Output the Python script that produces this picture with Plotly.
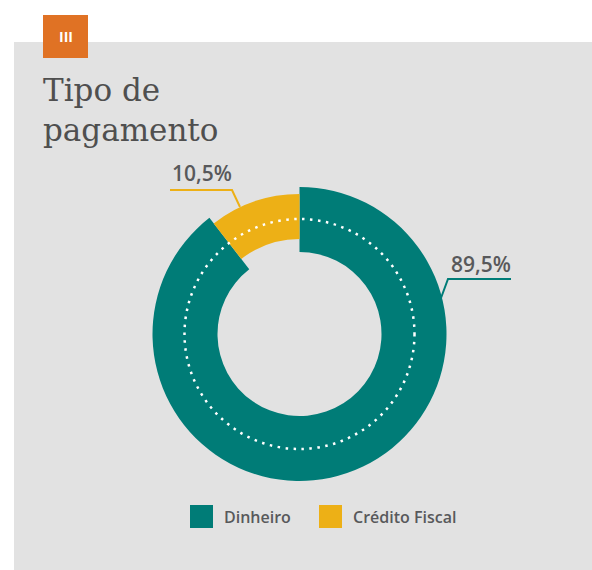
import plotly.graph_objects as go

# Dados
categorias = ["Dinheiro", "Crédito Fiscal"]
valores = [89.5, 10.5]
cores = ["#007C77", "#EDB016"]
titulo = "Tipo de<br>pagamento"
secao = "III"

W, H = 592, 570
COR_FUNDO = "#E2E2E2"
COR_TEXTO = "#58595B"


def px(x):
    return x / W


def py(y):
    return 1 - y / H


def dominio(cx, cy, r):
    return dict(x=[px(cx - r), px(cx + r)], y=[py(cy + r), py(cy - r)])


def rotulo(v):
    return f"{v:.1f}%".replace(".", ",")


cx, cy = 299.5, 334

fig = go.Figure()

# anel externo (Dinheiro)
fig.add_trace(go.Pie(
    labels=categorias, values=valores, sort=False, direction="clockwise",
    rotation=0, hole=82 / 147, domain=dominio(cx, cy, 147),
    marker=dict(colors=[cores[0], "rgba(0,0,0,0)"], line=dict(width=0)),
    textinfo="none", hoverinfo="label+percent", showlegend=False,
))
# anel mais fino (Crédito Fiscal)
fig.add_trace(go.Pie(
    labels=categorias, values=valores, sort=False, direction="clockwise",
    rotation=0, hole=95 / 140, domain=dominio(cx, cy, 140),
    marker=dict(colors=["rgba(0,0,0,0)", cores[1]], line=dict(width=0)),
    textinfo="none", hoverinfo="label+percent", showlegend=False,
))

shapes = [
    # painel cinza
    dict(type="rect", xref="paper", yref="paper", x0=px(14), x1=px(592),
         y0=py(570), y1=py(42), fillcolor=COR_FUNDO, line=dict(width=0), layer="below"),
    # selo laranja
    dict(type="rect", xref="paper", yref="paper", x0=px(43), x1=px(88),
         y0=py(58), y1=py(15), fillcolor="#E07224", line=dict(width=0), layer="below"),
    # círculo pontilhado
    dict(type="circle", xref="paper", yref="paper", x0=px(cx - 115), x1=px(cx + 115),
         y0=py(cy + 115), y1=py(cy - 115),
         line=dict(color="white", width=2.5, dash="2.5px,5.5px")),
    # linhas de chamada
    dict(type="path", xref="paper", yref="paper",
         path=f"M {px(170)},{py(190)} L {px(232)},{py(190)} L {px(240)},{py(207)}",
         line=dict(color=cores[1], width=2)),
    dict(type="path", xref="paper", yref="paper",
         path=f"M {px(511)},{py(279)} L {px(448)},{py(279)} L {px(441)},{py(298)}",
         line=dict(color=cores[0], width=2)),
]

annotations = [
    dict(text=secao, x=px(65.5), y=py(37), xanchor="center", yanchor="middle",
         font=dict(family="Open Sans", size=14, color="white", weight=700)),
    dict(text=titulo, x=px(41), y=py(70), xanchor="left", yanchor="top", align="left",
         font=dict(family="DejaVu Serif", size=31, color="#4F4F4F")),
    dict(text=rotulo(valores[1]), x=px(202), y=py(173), xanchor="center", yanchor="middle",
         font=dict(family="Open Sans", size=21, color=COR_TEXTO, weight=600)),
    dict(text=rotulo(valores[0]), x=px(481), y=py(264), xanchor="center", yanchor="middle",
         font=dict(family="Open Sans", size=21, color=COR_TEXTO, weight=600)),
]

# legenda manual
leg_x = [190, 319]
for i, nome in enumerate(categorias):
    x0 = leg_x[i]
    shapes.append(dict(type="rect", xref="paper", yref="paper", x0=px(x0), x1=px(x0 + 23),
                       y0=py(528), y1=py(505), fillcolor=cores[i], line=dict(width=0)))
    annotations.append(dict(text=nome, x=px(x0 + 32), y=py(517), xanchor="left",
                            yanchor="middle",
                            font=dict(family="Open Sans", size=16, color=COR_TEXTO, weight=600)))

for a in annotations:
    a.update(xref="paper", yref="paper", showarrow=False)

fig.update_layout(
    width=W, height=H,
    margin=dict(l=0, r=0, t=0, b=0),
    paper_bgcolor="white", plot_bgcolor="white",
    shapes=shapes, annotations=annotations,
    showlegend=False,
)

fig.write_html("out.html", config={"displayModeBar": False},
               post_script="document.body.style.margin='0';")
